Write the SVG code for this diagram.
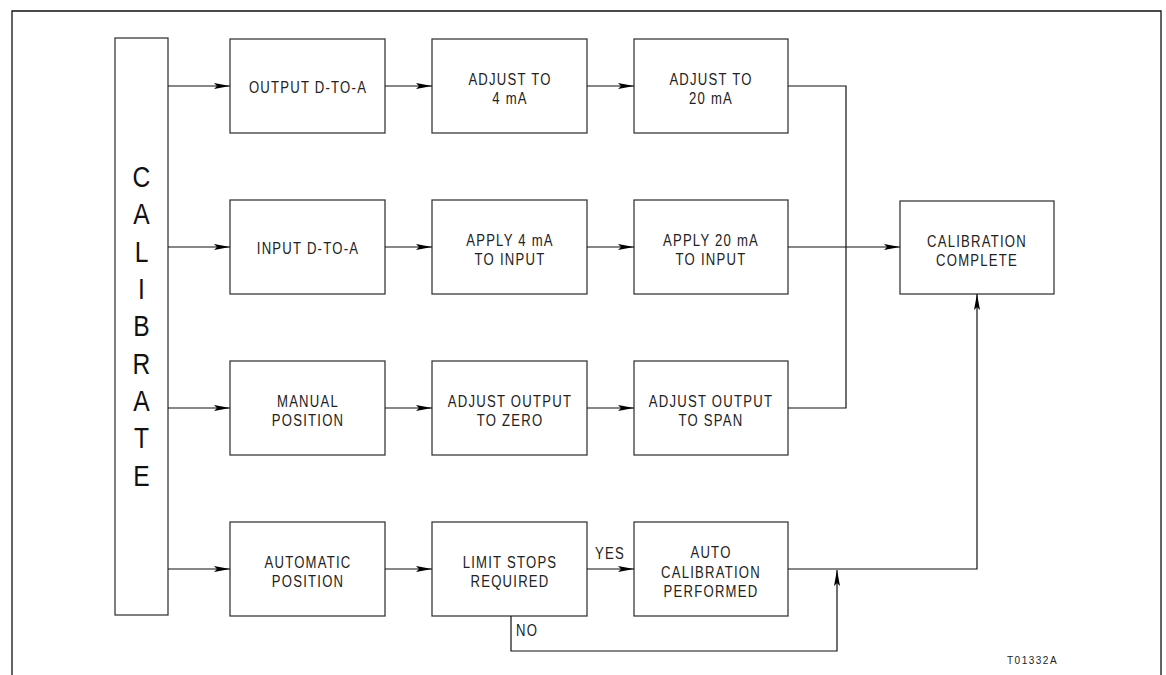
<svg xmlns="http://www.w3.org/2000/svg" width="1166" height="675" viewBox="0 0 1166 675">
<style>
.box{fill:#fff;stroke:#3a3a3a;stroke-width:1.3}
.ln{fill:none;stroke:#111;stroke-width:1.2}
.t{font-family:"Liberation Sans",Arial,sans-serif;font-size:16px;letter-spacing:1.5px;fill:#222;text-anchor:middle}
.ts{font-family:"Liberation Sans",Arial,sans-serif;font-size:16px;letter-spacing:1.5px;fill:#222;text-anchor:start}
.big{font-family:"Liberation Sans",Arial,sans-serif;font-size:30px;fill:#111;text-anchor:middle}
.id{font-family:"Liberation Sans",Arial,sans-serif;font-size:10px;letter-spacing:1.5px;fill:#222}
</style>
<defs>
<marker id="ah" viewBox="0 0 16 6" refX="16" refY="3" markerWidth="16" markerHeight="6" markerUnits="userSpaceOnUse" orient="auto">
<path d="M0,0 L16,3 L0,6 L3,3 Z" fill="#000"/>
</marker>
</defs>
<path d="M12,675 V11 H1161 V675" fill="none" stroke="#111" stroke-width="1.3"/>

<g id="calibrate">
<rect class="box" x="115" y="38" width="53" height="577"/>
<g transform="translate(141.5,0) scale(0.82,1)">
<text class="big" x="0" y="187">C</text>
<text class="big" x="0" y="224.5">A</text>
<text class="big" x="0" y="262">L</text>
<text class="big" x="0" y="299">I</text>
<text class="big" x="0" y="336.5">B</text>
<text class="big" x="0" y="374">R</text>
<text class="big" x="0" y="411">A</text>
<text class="big" x="0" y="448.5">T</text>
<text class="big" x="0" y="486">E</text>
</g>
</g>

<g id="output-d-to-a">
<rect class="box" x="230" y="39" width="155" height="94"/>
<text class="t" transform="translate(308,93) scale(0.82,1)">OUTPUT D-TO-A</text>
</g>
<g id="adjust-4ma">
<rect class="box" x="432" y="39" width="155" height="94"/>
<text class="t" transform="translate(510,85) scale(0.82,1)">ADJUST TO</text>
<text class="t" transform="translate(510,104) scale(0.82,1)">4 mA</text>
</g>
<g id="adjust-20ma">
<rect class="box" x="634" y="39" width="154" height="94"/>
<text class="t" transform="translate(711,85) scale(0.82,1)">ADJUST TO</text>
<text class="t" transform="translate(711,104) scale(0.82,1)">20 mA</text>
</g>

<g id="input-d-to-a">
<rect class="box" x="230" y="200" width="155" height="94"/>
<text class="t" transform="translate(308,254) scale(0.82,1)">INPUT D-TO-A</text>
</g>
<g id="apply-4ma">
<rect class="box" x="432" y="200" width="155" height="94"/>
<text class="t" transform="translate(510,246) scale(0.82,1)">APPLY 4 mA</text>
<text class="t" transform="translate(510,265) scale(0.82,1)">TO INPUT</text>
</g>
<g id="apply-20ma">
<rect class="box" x="634" y="200" width="154" height="94"/>
<text class="t" transform="translate(711,246) scale(0.82,1)">APPLY 20 mA</text>
<text class="t" transform="translate(711,265) scale(0.82,1)">TO INPUT</text>
</g>

<g id="manual-position">
<rect class="box" x="230" y="361" width="155" height="94"/>
<text class="t" transform="translate(308,407) scale(0.82,1)">MANUAL</text>
<text class="t" transform="translate(308,426) scale(0.82,1)">POSITION</text>
</g>
<g id="adjust-zero">
<rect class="box" x="432" y="361" width="155" height="94"/>
<text class="t" transform="translate(510,407) scale(0.82,1)">ADJUST OUTPUT</text>
<text class="t" transform="translate(510,426) scale(0.82,1)">TO ZERO</text>
</g>
<g id="adjust-span">
<rect class="box" x="634" y="361" width="154" height="94"/>
<text class="t" transform="translate(711,407) scale(0.82,1)">ADJUST OUTPUT</text>
<text class="t" transform="translate(711,426) scale(0.82,1)">TO SPAN</text>
</g>

<g id="automatic-position">
<rect class="box" x="230" y="522" width="155" height="94"/>
<text class="t" transform="translate(308,568) scale(0.82,1)">AUTOMATIC</text>
<text class="t" transform="translate(308,587) scale(0.82,1)">POSITION</text>
</g>
<g id="limit-stops">
<rect class="box" x="432" y="522" width="155" height="94"/>
<text class="t" transform="translate(510,568) scale(0.82,1)">LIMIT STOPS</text>
<text class="t" transform="translate(510,587) scale(0.82,1)">REQUIRED</text>
</g>
<g id="auto-calibration">
<rect class="box" x="634" y="522" width="154" height="94"/>
<text class="t" transform="translate(711,558) scale(0.82,1)">AUTO</text>
<text class="t" transform="translate(711,577.5) scale(0.82,1)">CALIBRATION</text>
<text class="t" transform="translate(711,597) scale(0.82,1)">PERFORMED</text>
</g>

<g id="calibration-complete">
<rect class="box" x="900" y="201" width="154" height="93"/>
<text class="t" transform="translate(977,247) scale(0.82,1)">CALIBRATION</text>
<text class="t" transform="translate(977,266) scale(0.82,1)">COMPLETE</text>
</g>

<g id="connectors">
<path class="ln" d="M168,86 H230" marker-end="url(#ah)"/>
<path class="ln" d="M168,247 H230" marker-end="url(#ah)"/>
<path class="ln" d="M168,408 H230" marker-end="url(#ah)"/>
<path class="ln" d="M168,569 H230" marker-end="url(#ah)"/>
<path class="ln" d="M385,86 H432" marker-end="url(#ah)"/>
<path class="ln" d="M587,86 H634" marker-end="url(#ah)"/>
<path class="ln" d="M385,247 H432" marker-end="url(#ah)"/>
<path class="ln" d="M587,247 H634" marker-end="url(#ah)"/>
<path class="ln" d="M385,408 H432" marker-end="url(#ah)"/>
<path class="ln" d="M587,408 H634" marker-end="url(#ah)"/>
<path class="ln" d="M385,569 H432" marker-end="url(#ah)"/>
<path class="ln" d="M587,569 H634" marker-end="url(#ah)"/>
<path class="ln" d="M788,86 H846 V408 H788"/>
<path class="ln" d="M788,247 H900" marker-end="url(#ah)"/>
<path class="ln" d="M788,569 H977 V294" marker-end="url(#ah)"/>
<path class="ln" d="M511,616 V651 H837 V570" marker-end="url(#ah)"/>
<text class="ts" transform="translate(595,559) scale(0.82,1)">YES</text>
<text class="ts" transform="translate(516,636) scale(0.82,1)">NO</text>
</g>

<text class="id" x="1007" y="664">T01332A</text>
</svg>
